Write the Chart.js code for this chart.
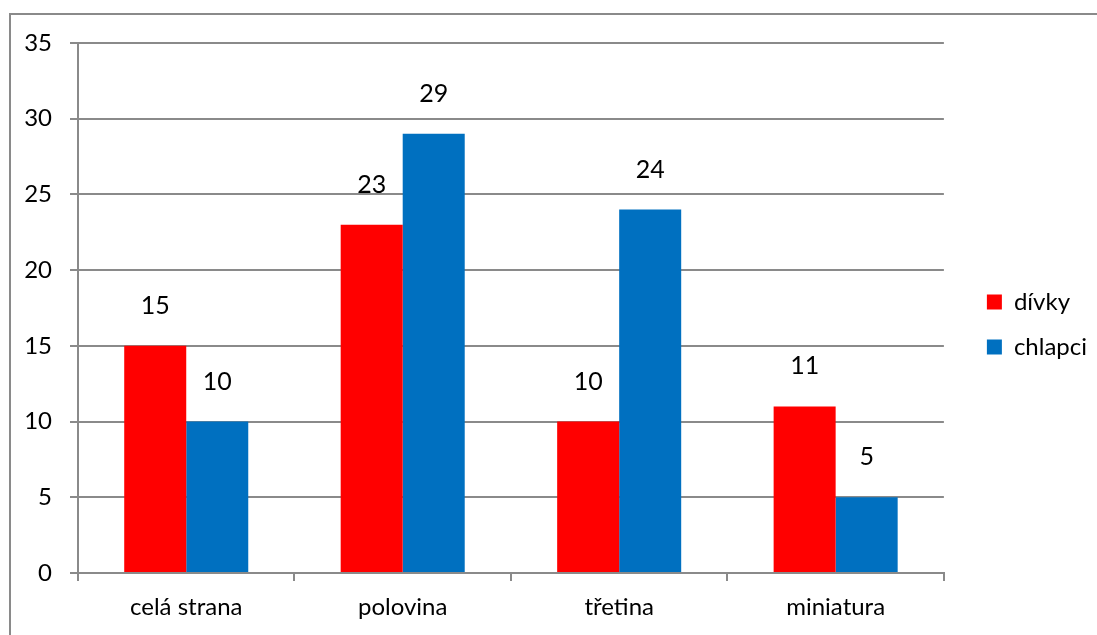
<!DOCTYPE html>
<html>
<head>
<meta charset="utf-8">
<script src="https://cdn.jsdelivr.net/npm/chart.js@4.4.1/dist/chart.umd.min.js"></script>
<style>
    html, body { margin: 0; padding: 0; background: #fff; }
    #wrap { width: 1097px; height: 635px; }
</style>
</head>
<body>
<div id="wrap"><canvas id="chart" width="1097" height="635"></canvas></div>
<script>
const categories = ["celá strana", "polovina", "třetina", "miniatura"];
const divky = [15, 23, 10, 11];
const chlapci = [10, 29, 24, 5];
const seriesNames = ["dívky", "chlapci"];
const yTicks = [0, 5, 10, 15, 20, 25, 30, 35];

const FONT = "Lato";
const GRID = "#8a8a8a";

// outer frame like the excel chart border
const frame = {
    id: "frame",
    beforeDraw(c) {
        const ctx = c.ctx;
        ctx.save();
        ctx.strokeStyle = GRID;
        ctx.lineWidth = 2;
        ctx.strokeRect(10, 14, 1200, 700);
        ctx.restore();
    }
};

// numbers above bars
const valueLabels = {
    id: "valueLabels",
    afterDatasetsDraw(c) {
        const ctx = c.ctx;
        ctx.save();
        ctx.font = "25px " + FONT;
        ctx.fillStyle = "#000";
        ctx.textAlign = "center";
        ctx.textBaseline = "alphabetic";
        c.data.datasets.forEach((ds, i) => {
            c.getDatasetMeta(i).data.forEach((bar, j) => {
                ctx.fillText(ds.data[j], bar.x, bar.y - 32);
            });
        });
        ctx.restore();
    }
};

const ctx = document.getElementById("chart").getContext("2d");
new Chart(ctx, {
    type: "bar",
    data: {
        labels: categories,
        datasets: [
            { label: seriesNames[0], data: divky, backgroundColor: "#ff0000", xAxisID: "x", yAxisID: "y" },
            { label: seriesNames[1], data: chlapci, backgroundColor: "#0070c0", xAxisID: "x", yAxisID: "y" }
        ]
    },
    options: {
        responsive: false,
        animation: false,
        layout: { padding: { left: 20, top: 14, right: 0, bottom: 0 } },
        datasets: { bar: { categoryPercentage: 0.573, barPercentage: 1.0 } },
        plugins: {
            tooltip: { enabled: false },
            legend: {
                position: "right",
                labels: {
                    boxWidth: 15,
                    boxHeight: 15,
                    padding: 21,
                    color: "#000",
                    font: { family: FONT, size: 24 }
                }
            }
        },
        scales: {
            x: {
                grid: { drawOnChartArea: false, drawTicks: true, tickLength: 8, color: GRID, lineWidth: 2 },
                border: { color: GRID, width: 2 },
                ticks: { color: "#000", font: { family: FONT, size: 24 }, padding: 12 },
                afterFit(s) { s.height = 62; }
            },
            y: {
                min: 0,
                max: 35,
                afterBuildTicks(s) { s.ticks = yTicks.map(v => ({ value: v })); },
                grid: { color: GRID, lineWidth: 2, tickLength: 8 },
                border: { color: GRID, width: 2 },
                ticks: { color: "#000", font: { family: FONT, size: 24 }, padding: 18 },
                afterFit(s) { s.width = 58; }
            },
            // empty spacers so plot area and legend sit where the original has them
            topGap: {
                type: "category",
                position: "top",
                grid: { display: false },
                border: { display: false },
                ticks: { display: false },
                afterFit(s) { s.height = 29; }
            },
            rightGap: {
                type: "linear",
                position: "right",
                grid: { display: false },
                border: { display: false },
                ticks: { display: false },
                afterFit(s) { s.width = 22; }
            }
        }
    },
    plugins: [frame, valueLabels]
});
</script>
</body>
</html>
